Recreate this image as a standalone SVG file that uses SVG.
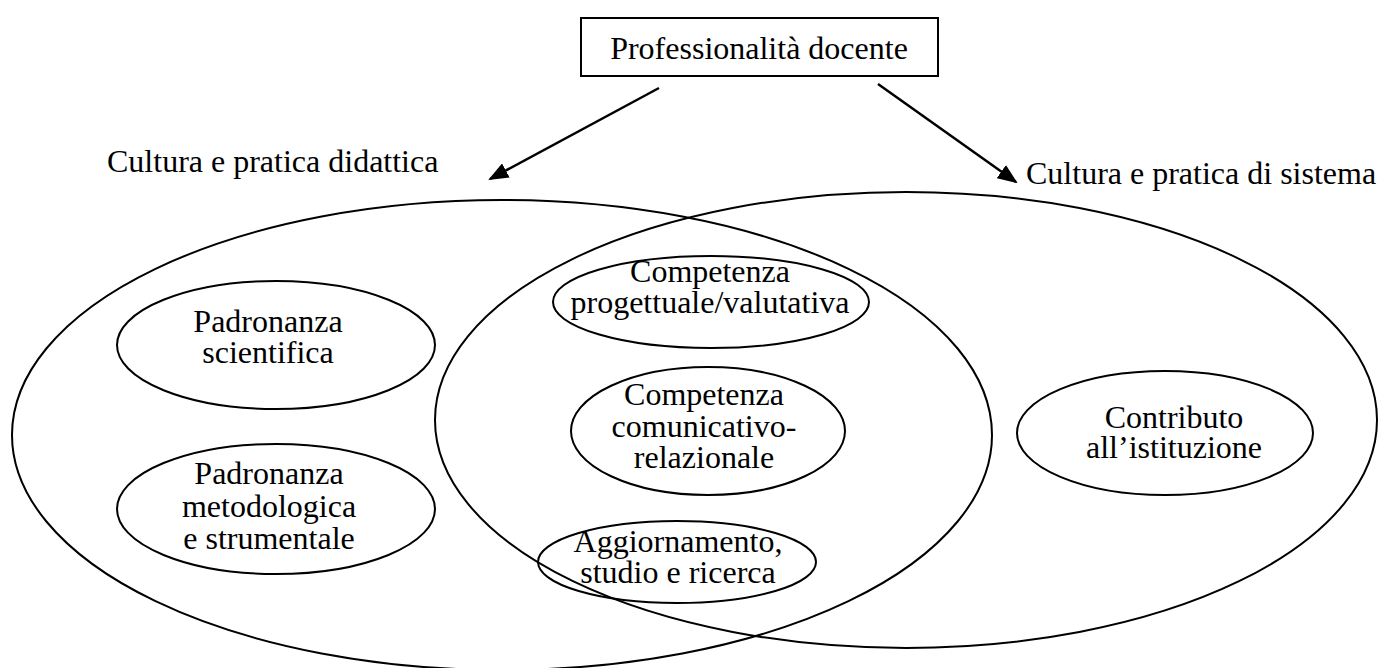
<svg xmlns="http://www.w3.org/2000/svg" width="1381" height="668" viewBox="0 0 1381 668">
<style>
  text { font-family: "Liberation Serif", "Times New Roman", serif; font-size: 32px; fill: #000; }
  .c { text-anchor: middle; }
  .big { fill: none; stroke: #000; stroke-width: 2; }
  .small { fill: none; stroke: #000; stroke-width: 2; }
  .arrow { stroke: #000; stroke-width: 2.5; fill: none; }
</style>
<defs>
  <marker id="ah" markerWidth="20" markerHeight="16" refX="18" refY="8" orient="auto" markerUnits="userSpaceOnUse">
    <path d="M0,0 L20,8 L0,16 Z" fill="#000"/>
  </marker>
</defs>
<rect width="1381" height="668" fill="#fff"/>

<g id="big-ellipses">
  <ellipse id="didattica" class="big" cx="502" cy="435" rx="490" ry="235"/>
  <ellipse id="sistema" class="big" cx="906" cy="420" rx="471" ry="228"/>
</g>

<g id="professionalita">
  <rect x="581" y="18" width="357" height="58" fill="#fff" stroke="#000" stroke-width="2"/>
  <text class="c" x="759" y="59">Professionalità docente</text>
</g>

<g id="label-didattica">
  <text x="107" y="172">Cultura e pratica didattica</text>
</g>
<g id="label-sistema">
  <text x="1026" y="184">Cultura e pratica di sistema</text>
</g>

<g id="connectors">
  <line class="arrow" x1="659" y1="88" x2="490" y2="179" marker-end="url(#ah)"/>
  <line class="arrow" x1="878" y1="84" x2="1016" y2="182" marker-end="url(#ah)"/>
</g>

<g id="padronanza-scientifica">
  <ellipse class="small" cx="276" cy="345" rx="159" ry="64"/>
  <text class="c" x="268" y="332">Padronanza</text>
  <text class="c" x="268" y="363">scientifica</text>
</g>

<g id="padronanza-metodologica">
  <ellipse class="small" cx="276" cy="509" rx="159" ry="65"/>
  <text class="c" x="269" y="484">Padronanza</text>
  <text class="c" x="269" y="517">metodologica</text>
  <text class="c" x="269" y="549">e strumentale</text>
</g>

<g id="competenza-progettuale">
  <ellipse class="small" cx="711" cy="302" rx="158" ry="46"/>
  <text class="c" x="710" y="282">Competenza</text>
  <text class="c" x="710" y="313">progettuale/valutativa</text>
</g>

<g id="competenza-comunicativa">
  <ellipse class="small" cx="708" cy="431" rx="137" ry="64"/>
  <text class="c" x="704" y="405">Competenza</text>
  <text class="c" x="704" y="437">comunicativo-</text>
  <text class="c" x="704" y="468">relazionale</text>
</g>

<g id="aggiornamento">
  <ellipse class="small" cx="677" cy="562" rx="139" ry="41"/>
  <text class="c" x="678" y="552">Aggiornamento,</text>
  <text class="c" x="678" y="583">studio e ricerca</text>
</g>

<g id="contributo">
  <ellipse class="small" cx="1165" cy="433" rx="148" ry="62"/>
  <text class="c" x="1174" y="428">Contributo</text>
  <text class="c" x="1174" y="458">all’istituzione</text>
</g>
</svg>
